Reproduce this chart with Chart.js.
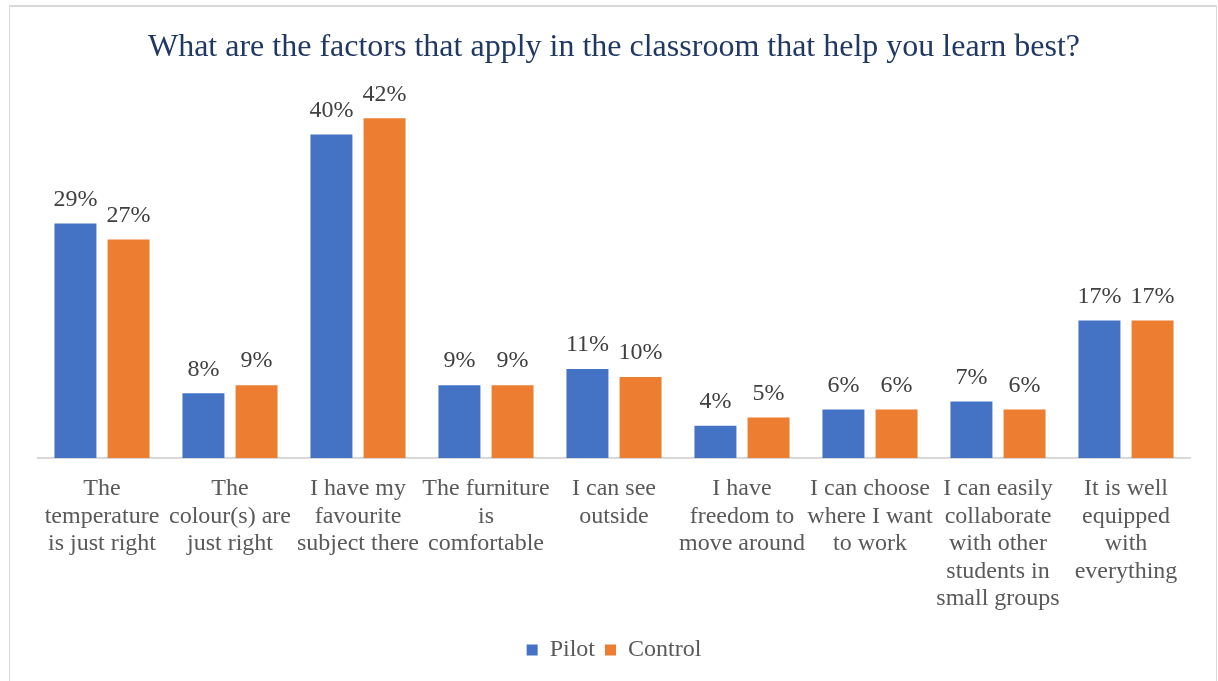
<!DOCTYPE html>
<html lang="en">
<head>
    <meta charset="UTF-8">
    <title>Classroom factors</title>
    <script src="https://cdn.jsdelivr.net/npm/chart.js"></script>
    <style>
        body {
            margin: 0;
            background: #ffffff;
            overflow: hidden;
        }
        #frame {
            position: absolute;
            left: 9px;
            top: 5px;
            width: 1206px;
            height: 700px;
            border: 1px solid #d9d9d9;
            border-top-width: 2px;
        }
        #chartContainer {
            position: absolute;
            left: 0;
            top: 0;
            width: 1218px;
            height: 681px;
        }
    </style>
</head>
<body>

<div id="frame"></div>
<div id="chartContainer">
    <canvas id="factorsChart"></canvas>
</div>

<script>
    const categories = [
        ['The', 'temperature', 'is just right'],
        ['The', 'colour(s) are', 'just right'],
        ['I have my', 'favourite', 'subject there'],
        ['The furniture', 'is', 'comfortable'],
        ['I can see', 'outside'],
        ['I have', 'freedom to', 'move around'],
        ['I can choose', 'where I want', 'to work'],
        ['I can easily', 'collaborate', 'with other', 'students in', 'small groups'],
        ['It is well', 'equipped', 'with', 'everything']
    ];
    const pilot = [29, 8, 40, 9, 11, 4, 6, 7, 17];
    const control = [27, 9, 42, 9, 10, 5, 6, 6, 17];

    const serif = '"Liberation Serif", "Times New Roman", serif';

    // percentage labels above every bar
    const barLabels = {
        id: 'barLabels',
        afterDatasetsDraw(chart) {
            const ctx = chart.ctx;
            ctx.save();
            ctx.font = '24px ' + serif;
            ctx.fillStyle = '#404040';
            ctx.textAlign = 'center';
            ctx.textBaseline = 'middle';
            chart.data.datasets.forEach((ds, i) => {
                chart.getDatasetMeta(i).data.forEach((bar, j) => {
                    ctx.fillText(ds.data[j] + '%', bar.x, bar.y - 24);
                });
            });
            ctx.restore();
        }
    };

    const ctx = document.getElementById('factorsChart').getContext('2d');

    new Chart(ctx, {
        type: 'bar',
        data: {
            labels: categories,
            datasets: [
                {
                    label: 'Pilot',
                    data: pilot,
                    backgroundColor: '#4472C4'
                },
                {
                    label: 'Control',
                    data: control,
                    backgroundColor: '#ED7D31'
                }
            ]
        },
        options: {
            responsive: true,
            maintainAspectRatio: false,
            animation: false,
            layout: {
                padding: { left: 38, right: 28, top: 28, bottom: 9 }
            },
            datasets: {
                bar: {
                    categoryPercentage: 0.83,
                    barPercentage: 0.79
                }
            },
            scales: {
                x: {
                    grid: { color: 'transparent', drawTicks: false },
                    border: { display: true, color: '#d9d9d9', width: 2 },
                    ticks: {
                        padding: 17,
                        maxRotation: 0,
                        autoSkip: false,
                        color: '#595959',
                        font: { family: serif, size: 24, lineHeight: 1.15 }
                    },
                    afterFit(axis) {
                        axis.height = 170;
                    }
                },
                y: {
                    display: false,
                    min: 0,
                    max: 45
                }
            },
            plugins: {
                title: {
                    display: true,
                    text: 'What are the factors that apply in the classroom that help you learn best?',
                    color: '#1F3864',
                    font: { family: serif, size: 32, weight: 'normal', lineHeight: 1.2 },
                    padding: { top: 0, bottom: 27.6 }
                },
                legend: {
                    position: 'bottom',
                    labels: {
                        boxWidth: 11,
                        boxHeight: 11,
                        padding: 10,
                        color: '#595959',
                        font: { family: serif, size: 24, lineHeight: 1.2 }
                    }
                },
                tooltip: { enabled: false }
            }
        },
        plugins: [barLabels]
    });
</script>

</body>
</html>
